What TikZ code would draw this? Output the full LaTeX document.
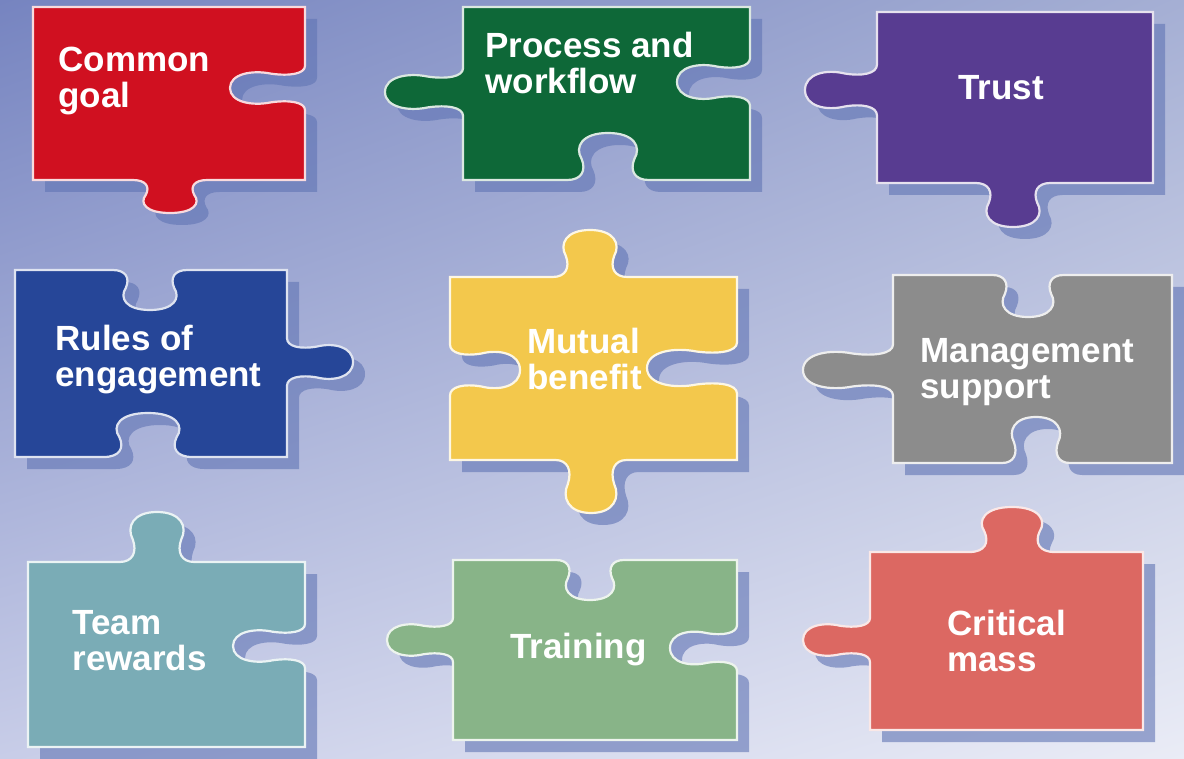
\documentclass[tikz,border=0pt]{standalone}
\usepackage{fontspec}
\setmainfont{Liberation Sans}
\usepackage{xcolor}
\usepackage{tikz}
\usetikzlibrary{shadows,shadings}

\definecolor{goalred}{RGB}{208,16,32}
\definecolor{processgreen}{RGB}{14,104,56}
\definecolor{trustpurple}{RGB}{88,60,145}
\definecolor{rulesblue}{RGB}{38,70,152}
\definecolor{mutualyellow}{RGB}{243,200,76}
\definecolor{mgmtgray}{RGB}{140,140,140}
\definecolor{rewardsteal}{RGB}{122,172,182}
\definecolor{traininggreen}{RGB}{136,180,136}
\definecolor{masssalmon}{RGB}{220,104,98}
\definecolor{shadowblue}{RGB}{96,116,180}
\definecolor{bgUL}{RGB}{118,132,192}
\definecolor{bgUR}{RGB}{165,175,212}
\definecolor{bgLL}{RGB}{200,205,232}
\definecolor{bgLR}{RGB}{234,236,246}

% knob on an edge: centre #1,#2; edge direction #3,#4; half width #5; depth #6 (negative = hole)
\newcommand\knob[6]{%
  -- ({#1-0.85*(#5)*(#3)},{#2-0.85*(#5)*(#4)})
  .. controls ({#1-0.55*(#5)*(#3)},{#2-0.55*(#5)*(#4)})
          and ({#1-0.45*(#5)*(#3)+0.2*(#6)*(#4)},{#2-0.45*(#5)*(#4)-0.2*(#6)*(#3)})
  .. ({#1-0.55*(#5)*(#3)+0.45*(#6)*(#4)},{#2-0.55*(#5)*(#4)-0.45*(#6)*(#3)})
  .. controls ({#1-0.7*(#5)*(#3)+0.7*(#6)*(#4)},{#2-0.7*(#5)*(#4)-0.7*(#6)*(#3)})
          and ({#1-0.55*(#5)*(#3)+(#6)*(#4)},{#2-0.55*(#5)*(#4)-(#6)*(#3)})
  .. ({#1+(#6)*(#4)},{#2-(#6)*(#3)})
  .. controls ({#1+0.55*(#5)*(#3)+(#6)*(#4)},{#2+0.55*(#5)*(#4)-(#6)*(#3)})
          and ({#1+0.7*(#5)*(#3)+0.7*(#6)*(#4)},{#2+0.7*(#5)*(#4)-0.7*(#6)*(#3)})
  .. ({#1+0.55*(#5)*(#3)+0.45*(#6)*(#4)},{#2+0.55*(#5)*(#4)-0.45*(#6)*(#3)})
  .. controls ({#1+0.45*(#5)*(#3)+0.2*(#6)*(#4)},{#2+0.45*(#5)*(#4)-0.2*(#6)*(#3)})
          and ({#1+0.55*(#5)*(#3)},{#2+0.55*(#5)*(#4)})
  .. ({#1+0.85*(#5)*(#3)},{#2+0.85*(#5)*(#4)})}

\begin{document}
\begin{tikzpicture}[
    x=0.5pt, y=-0.5pt,
    piece/.style={fill=#1, draw=white!85!#1, line width=1.1pt,
        drop shadow={shadow xshift=6pt, shadow yshift=-6pt, fill=shadowblue, opacity=0.6}},
    piecetext/.style={anchor=north west, inner sep=0pt, align=left, text=white,
        font=\fontsize{17.5}{18}\selectfont\bfseries}
]
\useasboundingbox (0,0) rectangle (1184,759);
\shade[upper left=bgUL, upper right=bgUR, lower left=bgLL, lower right=bgLR] (0,0) rectangle (1184,759);

% top row
\path[piece=goalred] (33,7) -- (305,7) \knob{305}{88}{0}{1}{26}{-75}
    -- (305,180) \knob{170}{180}{-1}{0}{44}{33} -- (33,180) -- cycle;
\path[piece=processgreen] (463,7) -- (750,7) \knob{750}{82}{0}{1}{28}{-73}
    -- (750,180) \knob{608}{180}{-1}{0}{48}{-47} -- (463,180) \knob{463}{92}{0}{-1}{28}{78} -- cycle;
\path[piece=trustpurple] (877,12) -- (1153,12) -- (1153,183) \knob{1013}{183}{-1}{0}{44}{44}
    -- (877,183) \knob{877}{90}{0}{-1}{30}{72} -- cycle;

% middle row
\path[piece=rulesblue] (15,270) \knob{150}{270}{1}{0}{44}{-40} -- (287,270) \knob{287}{362}{0}{1}{28}{66}
    -- (287,457) \knob{148}{457}{-1}{0}{52}{-44} -- (15,457) -- cycle;
\path[piece=mutualyellow] (450,277) \knob{590}{277}{1}{0}{44}{47} -- (737,277) \knob{737}{368}{0}{1}{30}{-90}
    -- (737,460) \knob{591}{460}{-1}{0}{42}{53} -- (450,460) \knob{450}{370}{0}{-1}{30}{-70} -- cycle;
\path[piece=mgmtgray] (893,275) \knob{1028}{275}{1}{0}{42}{-42} -- (1172,275) -- (1172,463)
    \knob{1036}{463}{-1}{0}{40}{-46} -- (893,463) \knob{893}{370}{0}{-1}{30}{90} -- cycle;

% bottom row
\path[piece=rewardsteal] (28,562) \knob{157}{562}{1}{0}{44}{50} -- (305,562) \knob{305}{646}{0}{1}{26}{-72}
    -- (305,747) -- (28,747) -- cycle;
\path[piece=traininggreen] (453,560) \knob{590}{560}{1}{0}{40}{-40} -- (737,560) \knob{737}{648}{0}{1}{27}{-67}
    -- (737,740) -- (453,740) \knob{453}{640}{0}{-1}{26}{66} -- cycle;
\path[piece=masssalmon] (870,552) \knob{1012}{552}{1}{0}{50}{45} -- (1143,552) -- (1143,730)
    -- (870,730) \knob{870}{640}{0}{-1}{26}{67} -- cycle;

\node[piecetext] (goal) at (58,47) {Common\\goal};
\node[piecetext] (process) at (485,32) {Process and\\workflow};
\node[piecetext] (trust) at (958,75) {Trust};
\node[piecetext] (rules) at (55,325) {Rules of\\engagement};
\node[piecetext] (mutual) at (527,328) {Mutual\\benefit};
\node[piecetext] (mgmt) at (920,338) {Management\\support};
\node[piecetext] (rewards) at (72,610) {Team\\rewards};
\node[piecetext] (training) at (510,633) {Training};
\node[piecetext] (mass) at (947,610) {Critical\\mass};
\end{tikzpicture}
\end{document}
